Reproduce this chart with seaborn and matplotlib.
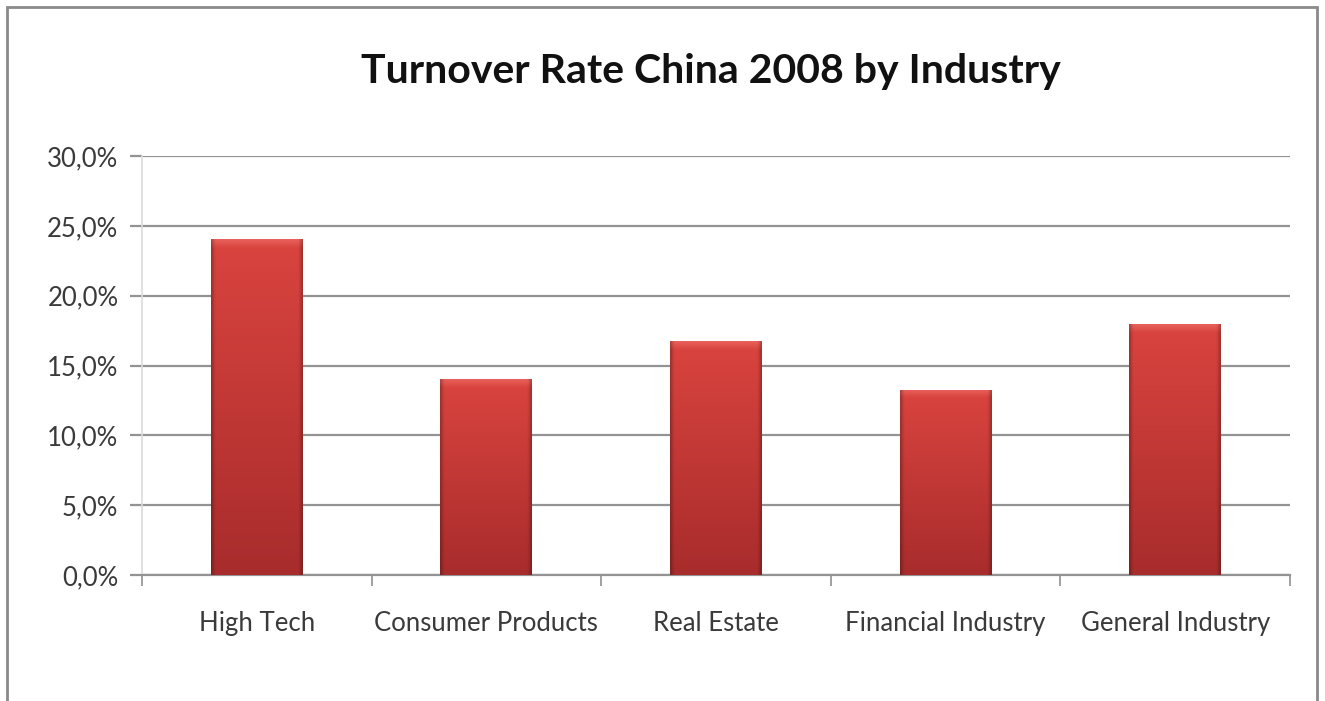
import numpy as np
import pandas as pd
import matplotlib
matplotlib.use("Agg")
import matplotlib.pyplot as plt
from matplotlib.patches import Rectangle
from matplotlib.ticker import FuncFormatter, FixedLocator
import seaborn as sns

categories = ["High Tech", "Consumer Products", "Real Estate", "Financial Industry", "General Industry"]
turnover = [24.05, 14.0, 16.75, 13.25, 17.95]
y_ticks = [0, 5, 10, 15, 20, 25, 30]
title = "Turnover Rate China 2008 by Industry"

sns.set_theme(style="white")
plt.rcParams['font.family'] = ['Lato', 'DejaVu Sans']

df = pd.DataFrame({"industry": categories, "rate": turnover})

fig = plt.figure(figsize=(13.25, 7.01), dpi=100)
ax = fig.add_axes([142/1325, 1 - 575/701, (1290-142)/1325, (575-156)/701])

sns.barplot(data=df, x="industry", y="rate", ax=ax, width=0.4,
            color="#c83a38", saturation=1, edgecolor="none", zorder=3)

ax.set_ylim(0, 30)
ax.set_xlim(-0.5, len(categories) - 0.5)
ax.yaxis.set_major_locator(FixedLocator(y_ticks))
ax.yaxis.set_major_formatter(FuncFormatter(lambda v, p: f"{v:.1f}".replace(".", ",") + "%"))
ax.grid(axis="y", color="#939393", linewidth=1.6, zorder=0)
ax.set_axisbelow(True)

for s in ["top", "right"]:
    ax.spines[s].set_visible(False)
ax.spines["left"].set_color("#dcdcdc")
ax.spines["left"].set_linewidth(1.2)
ax.spines["bottom"].set_color("#939393")
ax.spines["bottom"].set_linewidth(1.6)

ax.tick_params(axis="y", which="major", length=9, width=1.6, color="#939393",
               labelsize=18.5, labelcolor="#3a3a3a", pad=8, left=True)
ax.set_xticks(range(len(categories)))
ax.set_xticks(np.arange(-0.5, len(categories), 1.0), minor=True)
ax.tick_params(axis="x", which="major", length=0, labelsize=18.5, labelcolor="#3a3a3a", pad=26)
ax.tick_params(axis="x", which="minor", length=8, width=1.4, color="#a0a0a0", bottom=True)
ax.set_xlabel("")
ax.set_ylabel("")

# gradient shading on bars
top_c = np.array([218, 68, 63]) / 255
bot_c = np.array([168, 44, 44]) / 255
bevel_c = np.array([236, 104, 98]) / 255
for patch in ax.patches:
    x0, y0 = patch.get_x(), patch.get_y()
    w, h = patch.get_width(), patch.get_height()
    nrow, ncol = 300, 60
    yy = np.linspace(h, 0, nrow)[:, None]
    xx = np.linspace(0, 1, ncol)[None, :]
    t = 1 - yy / h
    img = top_c[None, None, :] * (1 - t[..., None]) + bot_c[None, None, :] * t[..., None]
    img = np.broadcast_to(img, (nrow, ncol, 3)).copy()
    depth = h - yy
    bev = np.clip(1 - depth / 0.6, 0, 1)[..., None]
    img = img * (1 - bev * 0.8) + bevel_c * bev * 0.8
    edge = np.minimum(xx, 1 - xx)
    shade = np.clip(1 - edge / 0.04, 0, 1)[..., None] * 0.25
    img = img * (1 - shade)
    im = ax.imshow(img, extent=(x0, x0 + w, y0, y0 + h), aspect="auto",
                   zorder=4, interpolation="bilinear")
    im.set_clip_path(patch)

ax.set_xlim(-0.5, len(categories) - 0.5)
ax.set_ylim(0, 30)

fig.text(711/1325, 1 - 71/701, title, ha="center", va="center",
         fontsize=29.5, fontweight="bold", color="#111111")

frame = Rectangle((7/1325, -0.05), (1317-7)/1325, 1 - 7/701 + 0.05,
                  transform=fig.transFigure, fill=False, edgecolor="#8a8a8a",
                  linewidth=2)
fig.patches.append(frame)

fig.savefig("out.png", dpi=100)
